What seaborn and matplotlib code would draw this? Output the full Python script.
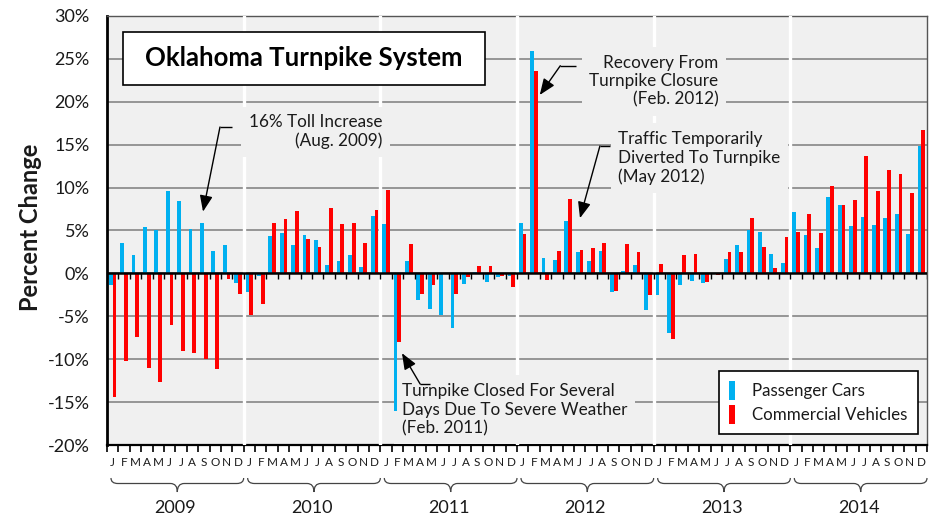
import numpy as np
import pandas as pd
import matplotlib
matplotlib.use("Agg")
import matplotlib.pyplot as plt
import seaborn as sns
from matplotlib.patches import Rectangle, PathPatch
from matplotlib.path import Path
from matplotlib.transforms import blended_transform_factory

years = [2009, 2010, 2011, 2012, 2013, 2014]
month_letters = ["J", "F", "M", "A", "M", "J", "J", "A", "S", "O", "N", "D"]
series_names = ["Passenger Cars", "Commercial Vehicles"]

# monthly percent change, Jan 2009 .. Dec 2014
passenger_cars = [
    -1.3, 3.6, 2.2, 5.4, 5.0, 9.6, 8.4, 5.2, 5.9, 2.6, 3.3, -1.1,
    -2.2, -0.35, 4.35, 4.7, 3.3, 4.45, 3.9, 1.0, 1.5, 2.2, 0.8, 6.7,
    5.8, -16.0, 1.5, -3.1, -4.2, -4.8, -6.35, -1.2, 0.2, -1.0, -0.4, -0.3,
    5.85, 25.9, 1.8, 1.6, 6.1, 2.5, 1.45, 2.6, -2.2, 0.3, 1.0, -4.3,
    -2.55, -6.9, -1.35, -0.9, -1.1, 0.05, 1.7, 3.3, 5.05, 4.85, 2.3, 1.25,
    7.2, 4.45, 3.0, 8.9, 7.95, 5.55, 6.6, 5.6, 6.5, 6.9, 4.55, 14.8,
]
commercial_vehicles = [
    -14.4, -10.2, -7.4, -11.0, -12.7, -6.0, -9.1, -9.3, -10.0, -11.2, -0.65, -2.4,
    -4.9, -3.6, 5.9, 6.3, 7.25, 4.0, 3.1, 7.6, 5.8, 5.9, 3.6, 7.4,
    9.7, -8.0, 3.45, -2.4, -1.3, -0.1, -2.4, -0.45, 0.9, 0.85, -0.3, -1.6,
    4.6, 23.6, -0.8, 2.6, 8.7, 2.7, 3.0, 3.5, -2.0, 3.4, 2.5, -2.5,
    1.15, -7.7, 2.2, 2.3, -1.05, -0.2, 2.45, 2.45, 6.45, 3.05, 0.6, 4.2,
    4.8, 6.95, 4.7, 10.15, 7.95, 8.55, 13.7, 9.6, 12.0, 11.6, 9.4, 16.7,
]

month_keys = [f"{y}-{m:02d}" for y in years for m in range(1, 13)]
df = pd.DataFrame({
    "month": month_keys * 2,
    "change": passenger_cars + commercial_vehicles,
    "series": [series_names[0]] * 72 + [series_names[1]] * 72,
})

sns.set_theme(style="white")
plt.rcParams["font.family"] = ["Lato", "DejaVu Sans"]
text_color = "#1a1a1a"
bg = "#F0F0F0"

fig = plt.figure(figsize=(9.42, 5.23), dpi=100)
ax = fig.add_axes([107 / 942, 1 - 445 / 523, 820 / 942, 429 / 523])
ax.set_facecolor(bg)

sns.barplot(data=df, x="month", y="change", hue="series", order=month_keys,
            hue_order=series_names, palette=["#00B0F0", "#FF0000"],
            width=0.66, errorbar=None, saturation=1, linewidth=0,
            edgecolor="none", zorder=4.5, ax=ax)

ax.set_xlim(-0.5, 71.5)
ax.set_ylim(-20, 30)
ax.set_xlabel("")

# y axis
yt = np.arange(-20, 31, 5)
ax.set_yticks(yt)
ax.set_yticklabels([f"{v}%" for v in yt], fontsize=13, color=text_color)
ax.tick_params(axis="y", direction="out", length=4.5, width=1, color="#868686", pad=8)
ax.yaxis.grid(True, color="#868686", lw=1.2, zorder=0.5)
ax.xaxis.grid(False)
ax.set_axisbelow(True)
ax.set_ylabel("Percent Change", fontsize=17, fontweight="bold", color=text_color)
ax.yaxis.set_label_coords(-0.079, 0.508)

# x axis: tick marks at month boundaries, letters under each month
ax.set_xticks(np.arange(-0.5, 72, 1))
ax.set_xticklabels([])
ax.set_xticks(np.arange(72), minor=True)
ax.set_xticklabels(month_letters * len(years), minor=True, fontsize=8.5, color=text_color)
ax.tick_params(axis="x", which="major", direction="out", length=5, width=1.2, color="black", bottom=True)
ax.tick_params(axis="x", which="minor", length=0, pad=9, bottom=True)

for side in ["top", "right"]:
    ax.spines[side].set_color("#555555")
    ax.spines[side].set_linewidth(1)
ax.spines["left"].set_color("black")
ax.spines["left"].set_linewidth(2)
ax.spines["bottom"].set_color("black")
ax.spines["bottom"].set_linewidth(1.6)

# zero line with its own small ticks
ax.axhline(0, color="black", lw=1.8, zorder=4.6)
ax.vlines(np.arange(-0.5, 72, 1), -0.6, 0, color="black", lw=1, zorder=4.6)

# white year separators
for k in range(1, len(years)):
    ax.axvline(12 * k - 0.5, color="white", lw=2.4, zorder=3.5)

# title box
ax.add_patch(Rectangle((0.0195, 0.839), 0.4415, 0.1235, transform=ax.transAxes,
                       facecolor="white", edgecolor="black", lw=1.2, zorder=6))
ax.text(0.240, 0.901, "Oklahoma Turnpike System", transform=ax.transAxes,
        ha="center", va="center", fontsize=18.5, fontweight="bold", color="black", zorder=7)

# annotations
box = dict(boxstyle="square,pad=0.45", facecolor=bg, edgecolor="none")
notes = [
    ("16% Toll Increase\n(Aug. 2009)", 23.7, 16.5, "right", (10.47, 9.42, 17.06), (7.93, 7.2)),
    ("Turnpike Closed For Several\nDays Due To Severe Weather\n(Feb. 2011)", 25.4, -15.9, "left",
     (27.9, 27.0, -12.9), (25.4, -9.3)),
    ("Recovery From\nTurnpike Closure\n(Feb. 2012)", 53.2, 22.4, "right", (40.7, 39.3, 24.2), (37.5, 20.8)),
    ("Traffic Temporarily\nDiverted To Turnpike\n(May 2012)", 44.4, 13.45, "left",
     (43.66, 42.78, 14.85), (41.03, 6.44)),
]
for txt, tx, ty, ha, (hx, ex, ey), (px, py) in notes:
    ax.text(tx, ty, txt, ha=ha, va="center", multialignment=ha, fontsize=12.3,
            color=text_color, bbox=box, zorder=4, linespacing=1.2)
    ax.plot([ex, hx], [ey, ey], color="black", lw=1, zorder=5, solid_capstyle="butt")
    ax.annotate("", xy=(px, py), xytext=(ex, ey),
                arrowprops=dict(arrowstyle="-|>,head_length=0.7,head_width=0.28",
                                color="black", lw=1, shrinkA=0, shrinkB=0,
                                mutation_scale=14), zorder=5)

# legend
handles, labels = ax.get_legend_handles_labels()
leg = ax.legend(handles, labels, loc="lower right", bbox_to_anchor=(0.989, 0.0256),
                fontsize=12.2, frameon=True, fancybox=False, framealpha=1,
                edgecolor="black", handlelength=0.4, handleheight=1.35,
                labelspacing=0.3, handletextpad=1.0, borderpad=0.6, borderaxespad=0)
leg.get_frame().set_linewidth(1.2)
leg.set_zorder(6)
for t in leg.get_texts():
    t.set_color(text_color)

# year braces and labels under the month letters
tr = blended_transform_factory(ax.transData, fig.transFigure)
def fy(px):
    return 1 - px / 523

for k, yr in enumerate(years):
    x0 = 12 * k - 0.5 + 0.35
    x1 = 12 * k + 11.5
    xm = (x0 + x1) / 2
    yt_, yl, yb = fy(478), fy(483.5), fy(492)
    verts = [(x0, yt_), (x0, yl), (x0 + 0.6, yl),
             (xm - 0.6, yl),
             (xm, yl), (xm, yb),
             (xm, yl), (xm + 0.6, yl),
             (x1 - 0.6, yl),
             (x1, yl), (x1, yt_)]
    codes = [Path.MOVETO, Path.CURVE3, Path.CURVE3,
             Path.LINETO,
             Path.CURVE3, Path.CURVE3,
             Path.CURVE3, Path.CURVE3,
             Path.LINETO,
             Path.CURVE3, Path.CURVE3]
    ax.add_patch(PathPatch(Path(verts, codes), transform=tr, facecolor="none",
                           edgecolor="#444444", lw=0.9, clip_on=False))
    ax.text(12 * k + 5.5, fy(508), str(yr), transform=tr, ha="center", va="center",
            fontsize=13, color=text_color, clip_on=False)

fig.savefig("out.png", dpi=100)
